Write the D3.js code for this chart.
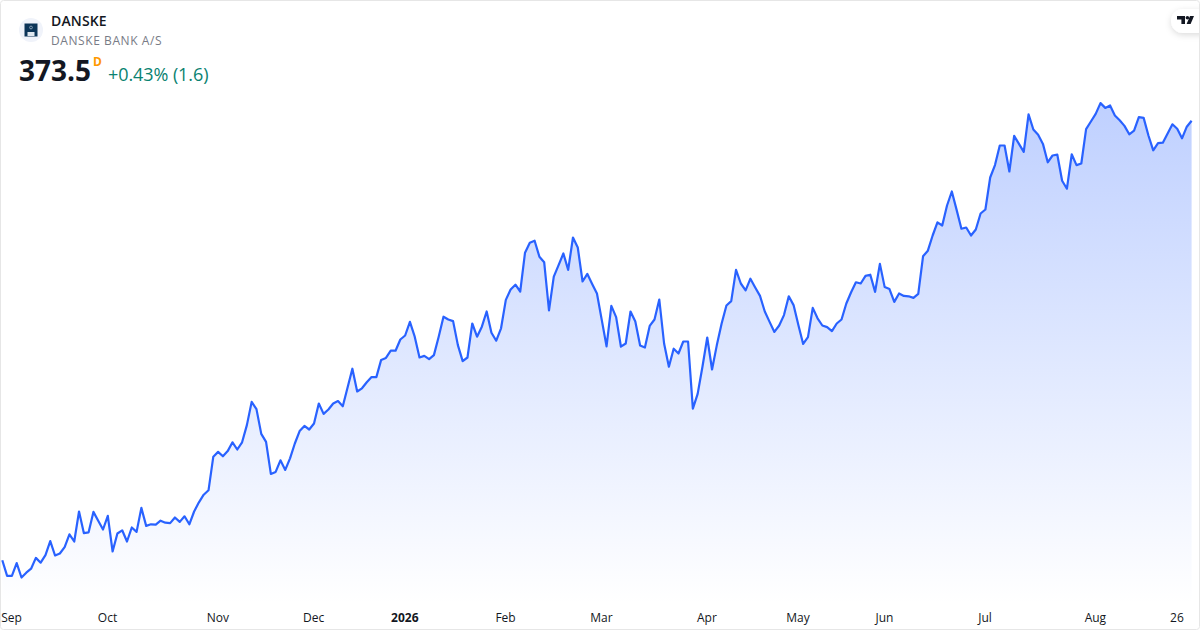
<!DOCTYPE html>
<html>
<head>
<meta charset="utf-8">
<script src="https://cdn.jsdelivr.net/npm/d3@7"></script>
<style>
html,body{margin:0;padding:0;background:#fff;width:1200px;height:630px;overflow:hidden}
svg{display:block}
text{font-family:"Open Sans",sans-serif}
</style>
</head>
<body>
<svg id="c" width="1200" height="630" xmlns="http://www.w3.org/2000/svg"></svg>
<script>
const symbol = "DANSKE";
const company = "DANSKE BANK A/S";
const lastPrice = "373.5";
const session = "D";
const change = "+0.43% (1.6)";

const prices = [
263.6,259.7,259.7,262.9,259.3,260.5,261.5,264.2,263.0,264.9,268.4,264.8,265.3,266.9,270.1,268.3,275.8,270.4,270.6,275.7,
273.5,271.3,274.7,265.8,270.3,271.1,268.3,271.8,270.7,276.7,272.2,272.6,272.5,273.5,273.0,272.9,274.3,273.2,274.6,272.6,
275.8,278.1,280.0,281.1,289.5,290.7,289.6,290.9,293.1,291.3,293.1,297.4,303.2,301.4,295.2,293.2,285.2,285.7,288.6,286.2,
289.1,292.8,295.9,297.2,296.3,297.8,302.8,300.2,301.3,302.8,303.4,302.1,306.8,311.5,305.8,306.6,308.1,309.4,309.4,313.7,
314.2,316.0,316.0,318.8,319.8,323.2,319.5,314.3,314.7,313.9,314.9,319.5,324.5,323.8,323.4,317.4,313.4,314.3,322.8,319.5,
322.0,325.8,320.5,318.5,321.6,328.7,331.3,332.5,330.8,340.5,343.0,343.5,339.5,338.1,326.1,334.5,337.4,340.3,336.2,344.3,
341.8,333.3,335.2,332.7,330.3,323.7,317.1,327.2,324.4,317.0,317.8,325.8,323.3,317.3,316.8,322.2,323.8,328.8,317.8,312.0,
316.5,315.3,318.3,318.3,301.5,305.2,312.0,319.3,311.3,317.4,322.8,327.3,328.4,336.2,332.8,331.1,334.0,331.8,329.7,325.8,
323.2,320.7,322.3,324.9,329.6,327.4,322.4,317.7,319.4,326.7,324.1,322.3,321.9,320.9,322.8,323.8,327.8,330.6,333.1,332.8,
334.7,335.0,330.7,337.7,331.9,331.4,328.2,330.3,329.7,329.6,329.2,330.2,339.6,341.0,344.8,348.1,347.3,352.3,355.8,351.2,
346.5,346.8,344.8,346.3,350.3,351.3,359.3,362.4,367.3,367.3,360.8,369.7,367.7,365.7,375.1,371.3,370.0,367.7,363.1,364.8,
365.0,358.5,356.5,365.1,362.4,362.8,371.4,373.3,375.2,377.9,376.7,377.3,374.8,373.6,372.2,370.1,371.0,374.4,374.2,369.8,
366.1,367.9,368.0,370.3,372.6,371.5,369.1,372.0,373.5];

const tickLabels = ["Sep","Oct","Nov","Dec","2026","Feb","Mar","Apr","May","Jun","Jul","Aug","26"];
const tickIndex  = [2,22,45,65,84,105,125,147,166,184,205,228,245];
const boldTicks  = ["2026"];

const W = 1200, H = 630;
const svg = d3.select("#c");
const x = d3.scaleLinear().domain([0, prices.length - 1]).range([2.3, 1191.6]);
const y = d3.scaleLinear().domain([250, 380]).range([614.7, 94.7]);
const baseY = 604;

const defs = svg.append("defs");
const grad = defs.append("linearGradient").attr("id","fill").attr("gradientUnits","userSpaceOnUse")
  .attr("x1",0).attr("x2",0).attr("y1",y(d3.max(prices))).attr("y2",baseY);
grad.append("stop").attr("offset",0).attr("stop-color","#2962FF").attr("stop-opacity",0.3);
grad.append("stop").attr("offset",1).attr("stop-color","#2962FF").attr("stop-opacity",0);
const shadow = defs.append("filter").attr("id","sh").attr("x","-50%").attr("y","-50%").attr("width","200%").attr("height","200%");
shadow.append("feDropShadow").attr("dx",0).attr("dy",2).attr("stdDeviation",3).attr("flood-color","#000").attr("flood-opacity",0.14);

svg.append("rect").attr("width",W).attr("height",H).attr("fill","#fff");

const area = d3.area().x((d,i)=>x(i)).y0(baseY).y1(d=>y(d));
const line = d3.line().x((d,i)=>x(i)).y(d=>y(d));
svg.append("path").datum(prices).attr("d",area).attr("fill","url(#fill)");
svg.append("path").datum(prices).attr("d",line).attr("fill","none").attr("stroke","#2962FF").attr("stroke-width",2.2).attr("stroke-linejoin","round");

// time axis
const axis = d3.axisBottom(x).tickValues(tickIndex).tickSize(0).tickPadding(0)
  .tickFormat((d,i)=>tickLabels[i]);
const gx = svg.append("g").attr("transform","translate(-0.8,613)").call(axis);
gx.select(".domain").remove();
gx.selectAll("text")
  .style("font-family",'"Open Sans",sans-serif').style("font-size","12px").attr("fill","#131722").attr("dy","0.71em").attr("y",0)
  .style("font-weight",function(){return boldTicks.includes(this.textContent)?700:400;});

// header
svg.append("circle").attr("cx",31).attr("cy",30).attr("r",12).attr("fill","#f0f3fa");
svg.append("rect").attr("x",24.5).attr("y",23.5).attr("width",13).attr("height",13).attr("fill","#0c3558");
svg.append("rect").attr("x",27.5).attr("y",32).attr("width",7).attr("height",4).attr("fill","#dfe7ef");
svg.append("circle").attr("cx",31).attr("cy",27.5).attr("r",1.4).attr("fill","none").attr("stroke","#9fb4c8").attr("stroke-width",0.8);

svg.append("text").attr("x",51).attr("y",26).attr("font-size",14).attr("font-weight",600).attr("fill","#131722").attr("letter-spacing","0.15").text(symbol);
svg.append("text").attr("x",51).attr("y",45).attr("font-size",12).attr("fill","#787b86").attr("letter-spacing","0.58").text(company);
svg.append("text").attr("x",19).attr("y",81).attr("font-size",28).attr("font-weight",700).attr("fill","#131722").text(lastPrice);
svg.append("text").attr("x",93).attr("y",66).attr("font-size",12).attr("font-weight",700).attr("fill","#ff9800").text(session);
svg.append("text").attr("x",108).attr("y",81).attr("font-size",18).attr("fill","#0a8270").attr("letter-spacing","-0.08").text(change);

// brand badge
svg.append("rect").attr("x",1171).attr("y",9).attr("width",50).attr("height",24).attr("rx",12).attr("fill","#fff").attr("filter","url(#sh)");
const logo = svg.append("g").attr("fill","#131722");
logo.append("path").attr("d","M1177 16h8v8h-3.6v-4.6H1177z");
logo.append("circle").attr("cx",1187.4).attr("cy",17.8).attr("r",1.8);
logo.append("path").attr("d","M1190 16h4l-3.4 8h-4z");

// frame
svg.append("rect").attr("x",0.5).attr("y",0.5).attr("width",W-1).attr("height",H-1).attr("rx",3)
  .attr("fill","none").attr("stroke","#e6e6e6").attr("stroke-width",1);
</script>
</body>
</html>
